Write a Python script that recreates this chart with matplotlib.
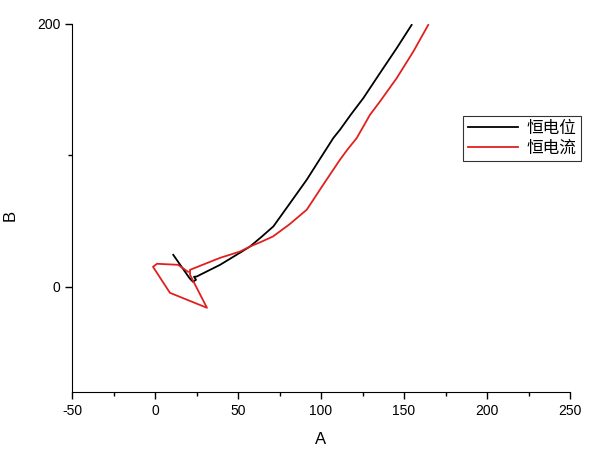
import matplotlib
matplotlib.use('Agg')
import matplotlib.pyplot as plt
from matplotlib.ticker import MultipleLocator

plt.rcParams['font.family'] = ['Liberation Sans', 'Noto Sans CJK SC', 'DejaVu Sans']
plt.rcParams['axes.unicode_minus'] = False

# 恒电位 curve
pot_x = [11.0, 20.1, 21.1, 22.9, 24.7, 23.5, 25.1, 39.2, 51.2, 57.2, 64.0,
         71.3, 81.0, 91.4, 99.5, 107.4, 111.4, 118.0, 125.5, 135.5, 145.6, 154.6]
pot_y = [24.3, 7.8, 6.1, 3.8, 5.3, 7.6, 7.8, 16.7, 25.9, 30.6, 37.8,
         45.9, 63.0, 81.4, 97.5, 113.1, 119.4, 131.0, 143.5, 162.5, 181.5, 199.2]

# 恒电流 curve
cur_x = [19.9, 13.9, 1.2, -1.2, 9.0, 31.3, 21.1, 21.1, 39.2, 51.2, 57.2,
         64.0, 71.1, 81.0, 91.4, 101.0, 111.4, 116.0, 121.5, 129.5, 135.5,
         145.6, 155.6, 164.6]
cur_y = [11.4, 16.7, 17.5, 15.2, -4.6, -16.0, 9.1, 12.9, 22.0, 26.8, 30.6,
         34.2, 38.3, 47.5, 58.6, 77.0, 96.6, 104.5, 113.1, 130.8, 140.9,
         158.7, 178.9, 199.2]

fig = plt.figure(figsize=(6, 4.5), dpi=100)
ax = fig.add_axes([0.12, 0.129, 0.83, 0.818])

ax.plot(pot_x, pot_y, color='black', lw=1.3, label='恒电位')
ax.plot(cur_x, cur_y, color='#e0201e', lw=1.3, label='恒电流')

ax.set_xlim(-50, 250)
ax.set_ylim(-80, 200)
ax.xaxis.set_major_locator(MultipleLocator(50))
ax.xaxis.set_minor_locator(MultipleLocator(25))
ax.set_yticks([0, 200])
ax.set_yticks([100], minor=True)

ax.spines['top'].set_visible(False)
ax.spines['right'].set_visible(False)
ax.tick_params(which='major', length=5, width=1, labelsize=10)
ax.tick_params(which='minor', length=3, width=1)

ax.set_xlabel('A', fontsize=12, labelpad=10)
ax.set_ylabel('B', fontsize=12)
ax.yaxis.set_label_coords(-0.11, 0.48)

leg = fig.legend(loc='upper left', bbox_to_anchor=(0.772, 0.742),
                 fontsize=12, frameon=True, fancybox=False,
                 handlelength=3.0, borderpad=0.3, labelspacing=0.25,
                 handletextpad=0.5, borderaxespad=0)
leg.get_frame().set_edgecolor('black')
leg.get_frame().set_linewidth(0.8)

fig.savefig('out.png', dpi=100)
